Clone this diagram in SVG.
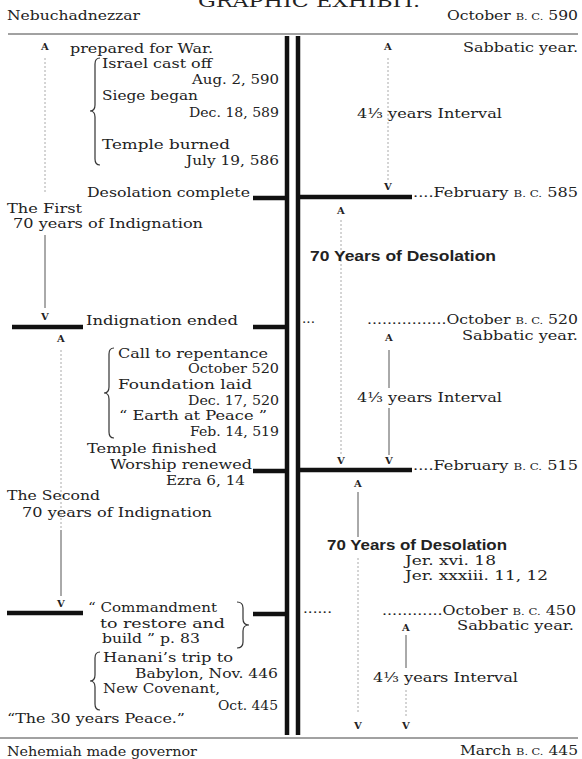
<svg xmlns="http://www.w3.org/2000/svg" width="582" height="759" viewBox="0 0 582 759">
<style>
.t{font-family:"DejaVu Serif","Liberation Serif",serif;font-size:13px;fill:#222}
.sc{font-size:9.5px}
.b{font-family:"Liberation Sans",Arial,sans-serif;font-weight:bold;font-size:15.5px;fill:#222}
.ar{font-family:"DejaVu Serif","Liberation Serif",serif;font-size:10px;fill:#222;text-anchor:middle;font-weight:bold}
.thick{stroke:#111;stroke-width:4.5;fill:none}
.rule{stroke:#444;stroke-width:1;fill:none}
.sol{stroke:#555;stroke-width:1;fill:none}
.dot{stroke:#aaa;stroke-width:1;stroke-dasharray:2 2;fill:none}
.br{stroke:#333;stroke-width:1.2;fill:none}
</style>
<rect width="582" height="759" fill="#fff"/>
<g id="title"><text class="t" x="198" y="7" textLength="222" lengthAdjust="spacingAndGlyphs" style="font-size:17px">GRAPHIC EXHIBIT.</text></g>
<g id="header">
<text class="t" x="7" y="20" textLength="133" lengthAdjust="spacingAndGlyphs">Nebuchadnezzar</text>
<text class="t" x="447" y="20" textLength="131" lengthAdjust="spacingAndGlyphs">October <tspan class="sc">B. C.</tspan> 590</text>
</g>
<g id="connectors">
<line class="rule" x1="8" y1="34" x2="578" y2="34"/>
<line class="rule" x1="0" y1="738" x2="578" y2="738"/>
<line class="thick" x1="287" y1="36" x2="287" y2="735"/>
<line class="thick" x1="298" y1="36" x2="298" y2="735"/>
<line class="thick" x1="253" y1="198" x2="286" y2="198"/>
<line class="thick" x1="300" y1="197" x2="412" y2="197"/>
<line class="thick" x1="12" y1="327" x2="83" y2="327"/>
<line class="thick" x1="253" y1="327" x2="286" y2="327"/>
<line class="thick" x1="253" y1="471" x2="286" y2="471"/>
<line class="thick" x1="300" y1="470" x2="412" y2="470"/>
<line class="thick" x1="7" y1="613" x2="83" y2="613"/>
<line class="thick" x1="253" y1="614" x2="286" y2="614"/>
<line class="dot" x1="45" y1="58" x2="45" y2="192"/>
<line class="sol" x1="45" y1="235" x2="45" y2="308"/>
<line class="dot" x1="61" y1="350" x2="61" y2="528"/>
<line class="sol" x1="61" y1="530" x2="61" y2="596"/>
<line class="dot" x1="388" y1="58" x2="388" y2="180"/>
<line class="dot" x1="341" y1="220" x2="341" y2="455"/>
<line class="sol" x1="389" y1="350" x2="389" y2="388"/>
<line class="sol" x1="389" y1="408" x2="389" y2="455"/>
<line class="sol" x1="358" y1="492" x2="358" y2="537"/>
<line class="dot" x1="358" y1="558" x2="358" y2="713"/>
<line class="sol" x1="406" y1="635" x2="406" y2="668"/>
<line class="dot" x1="406" y1="690" x2="406" y2="718"/>
</g>
<g id="arrows">
<text class="ar" x="45" y="50">A</text>
<text class="ar" x="388" y="50">A</text>
<text class="ar" x="388" y="190">V</text>
<text class="ar" x="341" y="214">A</text>
<text class="ar" x="45" y="320">V</text>
<text class="ar" x="61" y="342">A</text>
<text class="ar" x="389" y="341">A</text>
<text class="ar" x="341" y="464">V</text>
<text class="ar" x="389" y="464">V</text>
<text class="ar" x="358" y="487">A</text>
<text class="ar" x="61" y="607">V</text>
<text class="ar" x="406" y="631">A</text>
<text class="ar" x="358" y="729">V</text>
<text class="ar" x="406" y="729">V</text>
</g>
<g id="left-top">
<text class="t" x="70" y="53" textLength="143" lengthAdjust="spacingAndGlyphs">prepared for War.</text>
<path class="br" d="M100,58 Q95,58 95,64 L95,105 Q95,111 90,111 Q95,111 95,117 L95,159 Q95,165 100,165"/>
<text class="t" x="102" y="68" textLength="110" lengthAdjust="spacingAndGlyphs">Israel cast off</text>
<text class="t" x="192" y="84" textLength="87" lengthAdjust="spacingAndGlyphs">Aug. 2, 590</text>
<text class="t" x="102" y="100" textLength="96" lengthAdjust="spacingAndGlyphs">Siege began</text>
<text class="t" x="189" y="117" textLength="90" lengthAdjust="spacingAndGlyphs">Dec. 18, 589</text>
<text class="t" x="102" y="149" textLength="128" lengthAdjust="spacingAndGlyphs">Temple burned</text>
<text class="t" x="186" y="165" textLength="93" lengthAdjust="spacingAndGlyphs">July 19, 586</text>
<text class="t" x="87" y="197" textLength="163" lengthAdjust="spacingAndGlyphs">Desolation complete</text>
</g>
<g id="right-top">
<text class="t" x="463" y="52" textLength="115" lengthAdjust="spacingAndGlyphs">Sabbatic year.</text>
<text class="t" x="357" y="118" textLength="145" lengthAdjust="spacingAndGlyphs">4⅓ years Interval</text>
<text class="t" x="413" y="197" textLength="165" lengthAdjust="spacingAndGlyphs">....February <tspan class="sc">B. C.</tspan> 585</text>
</g>
<g id="first-indignation">
<text class="t" x="7" y="213" textLength="75" lengthAdjust="spacingAndGlyphs">The First</text>
<text class="t" x="13" y="228" textLength="190" lengthAdjust="spacingAndGlyphs">70 years of Indignation</text>
<text class="t" x="86" y="325" textLength="152" lengthAdjust="spacingAndGlyphs">Indignation ended</text>
</g>
<g id="desolation1">
<text class="b" x="310" y="261" textLength="186" lengthAdjust="spacingAndGlyphs">70 Years of Desolation</text>
<text class="t" x="302" y="323" textLength="13" lengthAdjust="spacingAndGlyphs">...</text>
<text class="t" x="367" y="324" textLength="211" lengthAdjust="spacingAndGlyphs">................October <tspan class="sc">B. C.</tspan> 520</text>
<text class="t" x="462" y="340" textLength="116" lengthAdjust="spacingAndGlyphs">Sabbatic year.</text>
<text class="t" x="357" y="402" textLength="145" lengthAdjust="spacingAndGlyphs">4⅓ years Interval</text>
<text class="t" x="413" y="470" textLength="165" lengthAdjust="spacingAndGlyphs">....February <tspan class="sc">B. C.</tspan> 515</text>
</g>
<g id="left-middle">
<path class="br" d="M114,348 Q109,348 109,354 L109,387 Q109,393 104,393 Q109,393 109,399 L109,432 Q109,438 114,438"/>
<text class="t" x="118" y="358" textLength="150" lengthAdjust="spacingAndGlyphs">Call to repentance</text>
<text class="t" x="188" y="373" textLength="91" lengthAdjust="spacingAndGlyphs">October 520</text>
<text class="t" x="118" y="389" textLength="134" lengthAdjust="spacingAndGlyphs">Foundation laid</text>
<text class="t" x="188" y="405" textLength="91" lengthAdjust="spacingAndGlyphs">Dec. 17, 520</text>
<text class="t" x="119" y="420" textLength="148" lengthAdjust="spacingAndGlyphs">“ Earth at Peace ”</text>
<text class="t" x="190" y="436" textLength="89" lengthAdjust="spacingAndGlyphs">Feb. 14, 519</text>
<text class="t" x="87" y="453" textLength="130" lengthAdjust="spacingAndGlyphs">Temple finished</text>
<text class="t" x="110" y="469" textLength="142" lengthAdjust="spacingAndGlyphs">Worship renewed</text>
<text class="t" x="166" y="485" textLength="79" lengthAdjust="spacingAndGlyphs">Ezra 6, 14</text>
<text class="t" x="7" y="500" textLength="93" lengthAdjust="spacingAndGlyphs">The Second</text>
<text class="t" x="22" y="517" textLength="190" lengthAdjust="spacingAndGlyphs">70 years of Indignation</text>
</g>
<g id="desolation2">
<text class="b" x="327" y="550" textLength="180" lengthAdjust="spacingAndGlyphs">70 Years of Desolation</text>
<text class="t" x="405" y="565" textLength="91" lengthAdjust="spacingAndGlyphs">Jer. xvi. 18</text>
<text class="t" x="405" y="580" textLength="143" lengthAdjust="spacingAndGlyphs">Jer. xxxiii. 11, 12</text>
<text class="t" x="303" y="613" textLength="29" lengthAdjust="spacingAndGlyphs">......</text>
<text class="t" x="382" y="615" textLength="194" lengthAdjust="spacingAndGlyphs">............October <tspan class="sc">B. C.</tspan> 450</text>
<text class="t" x="457" y="630" textLength="117" lengthAdjust="spacingAndGlyphs">Sabbatic year.</text>
<text class="t" x="373" y="682" textLength="145" lengthAdjust="spacingAndGlyphs">4⅓ years Interval</text>
</g>
<g id="left-bottom">
<text class="t" x="88" y="612" textLength="129" lengthAdjust="spacingAndGlyphs">“ Commandment</text>
<text class="t" x="100" y="628" textLength="125" lengthAdjust="spacingAndGlyphs">to restore and</text>
<text class="t" x="102" y="643" textLength="98" lengthAdjust="spacingAndGlyphs">build ” p. 83</text>
<path class="br" d="M237,602 Q243,602 243,608 L243,619 Q243,625 249,625 Q243,625 243,631 L243,642 Q243,648 237,648"/>
<path class="br" d="M100,652 Q95,652 95,658 L95,675 Q95,681 90,681 Q95,681 95,687 L95,704 Q95,710 100,710"/>
<text class="t" x="103" y="662" textLength="130" lengthAdjust="spacingAndGlyphs">Hanani’s trip to</text>
<text class="t" x="135" y="678" textLength="143" lengthAdjust="spacingAndGlyphs">Babylon, Nov. 446</text>
<text class="t" x="103" y="693" textLength="117" lengthAdjust="spacingAndGlyphs">New Covenant,</text>
<text class="t" x="218" y="710" textLength="60" lengthAdjust="spacingAndGlyphs">Oct. 445</text>
<text class="t" x="7" y="723" textLength="178" lengthAdjust="spacingAndGlyphs">“The 30 years Peace.”</text>
</g>
<g id="footer">
<text class="t" x="7" y="756" textLength="190" lengthAdjust="spacingAndGlyphs">Nehemiah made governor</text>
<text class="t" x="460" y="755" textLength="118" lengthAdjust="spacingAndGlyphs">March <tspan class="sc">B. C.</tspan> 445</text>
</g>
</svg>
